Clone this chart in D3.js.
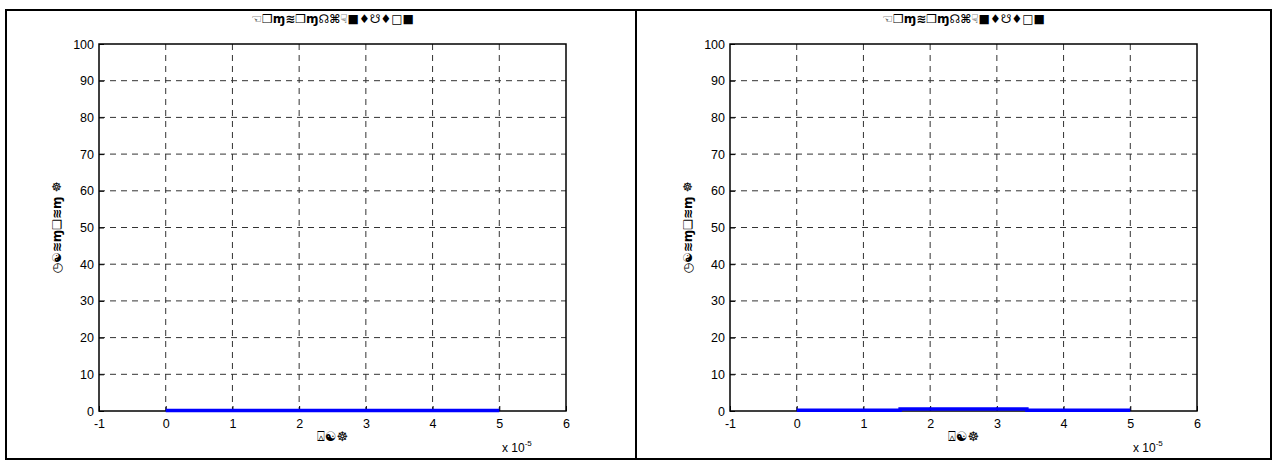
<!DOCTYPE html>
<html>
<head>
<meta charset="utf-8">
<script src="https://cdn.jsdelivr.net/npm/d3@7"></script>
<style>
    body { margin: 0; background: #fff; }
    svg { display: block; }
    text { font-family: "Liberation Sans", Arial, sans-serif; }
    .sym { font-family: "DejaVu Sans", sans-serif; }
</style>
</head>
<body>
<svg id="chart" width="1274" height="460"></svg>
<script>
// data (time in seconds, value in percent)
let xTicks = [-1, 0, 1, 2, 3, 4, 5, 6];
let yTicks = [0, 10, 20, 30, 40, 50, 60, 70, 80, 90, 100];
let titleText = '☜❒ɱ≋❒ɱ☊⌘☟■♦☋♦□■';
let xLabelText = '⍓☯☸';
let yLabelText = '◷☯≋ɱ❏≋ɱ ☸';

let leftTime = [0, 1e-5, 2e-5, 3e-5, 4e-5, 5e-5];
let leftValue = [0, 0, 0, 0, 0, 0];

let rightTime = [0, 1.55e-5, 1.55e-5, 3.45e-5, 3.45e-5, 5e-5];
let rightValue = [0.05, 0.05, 0.4, 0.4, 0.08, 0.08];

let svg = d3.select('#chart');

// table border round the two cells
svg.append('rect')
    .attr('x', 6).attr('y', 10)
    .attr('width', 1265).attr('height', 449)
    .attr('fill', 'none').attr('stroke', '#000').attr('stroke-width', 2);
svg.append('line')
    .attr('x1', 636).attr('x2', 636).attr('y1', 10).attr('y2', 460)
    .attr('stroke', '#000').attr('stroke-width', 2);

function drawPanel(left, time, value) {
    let margin = {top: 44, bottom: 411},
        right = left + 467;

    let x = d3.scaleLinear().domain([-1, 6]).range([left, right]);
    let y = d3.scaleLinear().domain([0, 100]).range([margin.bottom, margin.top]);

    let g = svg.append('g');

    // dashed grid
    g.selectAll('.vgrid')
        .data(xTicks.slice(1, -1))
        .enter().append('line')
        .attr('x1', d => x(d)).attr('x2', d => x(d))
        .attr('y1', margin.top).attr('y2', margin.bottom)
        .attr('stroke', '#333').attr('stroke-width', 1)
        .attr('stroke-dasharray', '6,5');
    g.selectAll('.hgrid')
        .data(yTicks.slice(1, -1))
        .enter().append('line')
        .attr('x1', left).attr('x2', right)
        .attr('y1', d => y(d)).attr('y2', d => y(d))
        .attr('stroke', '#333').attr('stroke-width', 1)
        .attr('stroke-dasharray', '6,5');

    // axes, ticks pointing inwards, box round the plot
    let fmt = d => String(d);
    let xAxis = d3.axisBottom(x).tickValues(xTicks).tickFormat(fmt).tickSize(-5).tickPadding(8);
    let yAxis = d3.axisLeft(y).tickValues(yTicks).tickFormat(fmt).tickSize(-5).tickPadding(5);

    let xg = g.append('g')
        .attr('transform', `translate(0,${margin.bottom})`)
        .call(xAxis);
    let yg = g.append('g')
        .attr('transform', `translate(${left},0)`)
        .call(yAxis);
    [xg, yg].forEach(a => {
        a.select('.domain').remove();
        a.selectAll('text').attr('font-size', 12.5).attr('fill', '#000')
            .attr('font-family', '"Liberation Sans", Arial, sans-serif');
        a.selectAll('line').attr('stroke', '#000');
    });

    g.append('rect')
        .attr('x', left).attr('y', margin.top)
        .attr('width', right - left).attr('height', margin.bottom - margin.top)
        .attr('fill', 'none').attr('stroke', '#000').attr('stroke-width', 1.5);

    // the series, on top of the box
    let line = d3.line()
        .x((d, i) => x(time[i] * 1e5))
        .y(d => y(d) - 0.5);
    g.append('path')
        .datum(value)
        .attr('d', line)
        .attr('fill', 'none')
        .attr('stroke', '#0000ff')
        .attr('stroke-width', 3.5);

    let cx = (left + right) / 2;

    // title and labels
    g.append('text')
        .attr('class', 'sym')
        .attr('x', cx).attr('y', 23)
        .attr('text-anchor', 'middle')
        .attr('font-size', 12)
        .attr('font-weight', 'bold')
        .text(titleText);
    g.append('text')
        .attr('class', 'sym')
        .attr('x', cx).attr('y', 441)
        .attr('text-anchor', 'middle')
        .attr('font-size', 13)
        .text(xLabelText);
    g.append('text')
        .attr('class', 'sym')
        .attr('transform', `translate(${left - 38},${(margin.top + margin.bottom) / 2}) rotate(-90)`)
        .attr('text-anchor', 'middle')
        .attr('font-size', 12)
        .attr('font-weight', 'bold')
        .text(yLabelText);

    // exponent note
    let ex = g.append('text')
        .attr('x', right - 64).attr('y', 452)
        .attr('font-size', 12);
    ex.append('tspan').text('x 10');
    ex.append('tspan').attr('dy', -6).attr('font-size', 8).text('-5');
}

drawPanel(99, leftTime, leftValue);
drawPanel(730, rightTime, rightValue);
</script>
</body>
</html>
